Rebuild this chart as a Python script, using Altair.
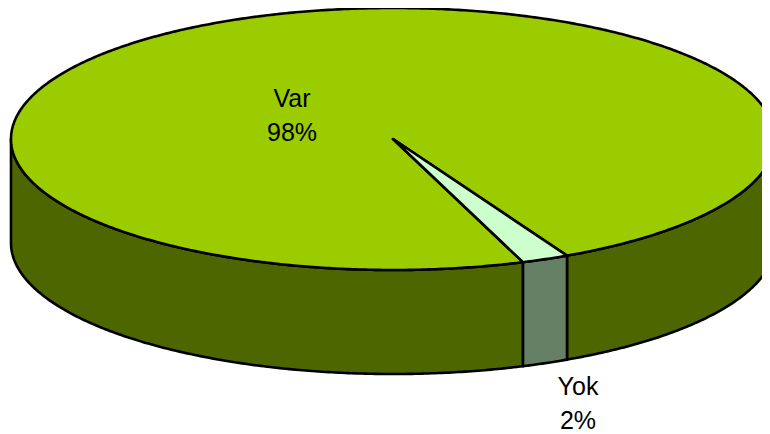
import altair as alt
import numpy as np

categories = ["Var", "Yok"]
shares = [98, 2]
top_colors = ["#9bcc00", "#ccffcc"]
side_colors = ["#4d6600", "#668066"]
label_x = [292, 578]
label_y = [99, 387]

# pie geometry, in the chart's own pixel units
CX, CY, RX, RY, DEPTH = 385, 131, 382, 131, 104
YOK_START = 62.9


def pt(t, dy=0):
    r = np.radians(t)
    return [float(CX + RX * np.cos(r)), float(CY + RY * np.sin(r) + dy)]


def arc(a, b):
    n = max(2, int(abs(b - a) * 2) + 1)
    return list(np.linspace(a, b, n))


yok_end = YOK_START + 3.6 * shares[1]


def side(a, b):
    front = arc(a, b)
    ring = [pt(t) for t in front] + [pt(t, DEPTH) for t in reversed(front)]
    return ring + [ring[0]]


def sector(a, b):
    ring = [[float(CX), float(CY)]] + [pt(t) for t in arc(a, b)]
    return ring + [ring[0]]


def feature(ring, fill):
    return {"type": "Feature", "properties": {"fill": fill},
            "geometry": {"type": "Polygon", "coordinates": [ring]}}


shapes = [
    feature(side(0, YOK_START), side_colors[0]),
    feature(side(yok_end, 180), side_colors[0]),
    feature(side(YOK_START, yok_end), side_colors[1]),
    feature(sector(yok_end, YOK_START + 360), top_colors[0]),
    feature(sector(YOK_START, yok_end), top_colors[1]),
]

pie = (
    alt.Chart(alt.Data(values=shapes))
    .mark_geoshape(stroke="black", strokeWidth=2.6, strokeJoin="round")
    .encode(fill=alt.Color("properties.fill:N", scale=None))
)

label_rows = [
    {"text": f"{c}\n{s}%", "lon": x - 8, "lat": y - 8}
    for c, s, x, y in zip(categories, shares, label_x, label_y)
]
labels = (
    alt.Chart(alt.Data(values=label_rows))
    .mark_text(font="Liberation Sans", fontSize=25, color="black", lineBreak="\n",
               lineHeight=34, align="center", baseline="middle")
    .encode(longitude="lon:Q", latitude="lat:Q", text="text:N")
)

chart = (
    alt.layer(pie, labels)
    .project(type="identity", scale=1, translate=[0, 0])
    .properties(width=754, height=426, padding=0,
                autosize=alt.AutoSizeParams(type="none"), background="white")
    .configure_view(stroke=None)
)

chart.save("out.html", embed_options={"renderer": "svg", "actions": False})
